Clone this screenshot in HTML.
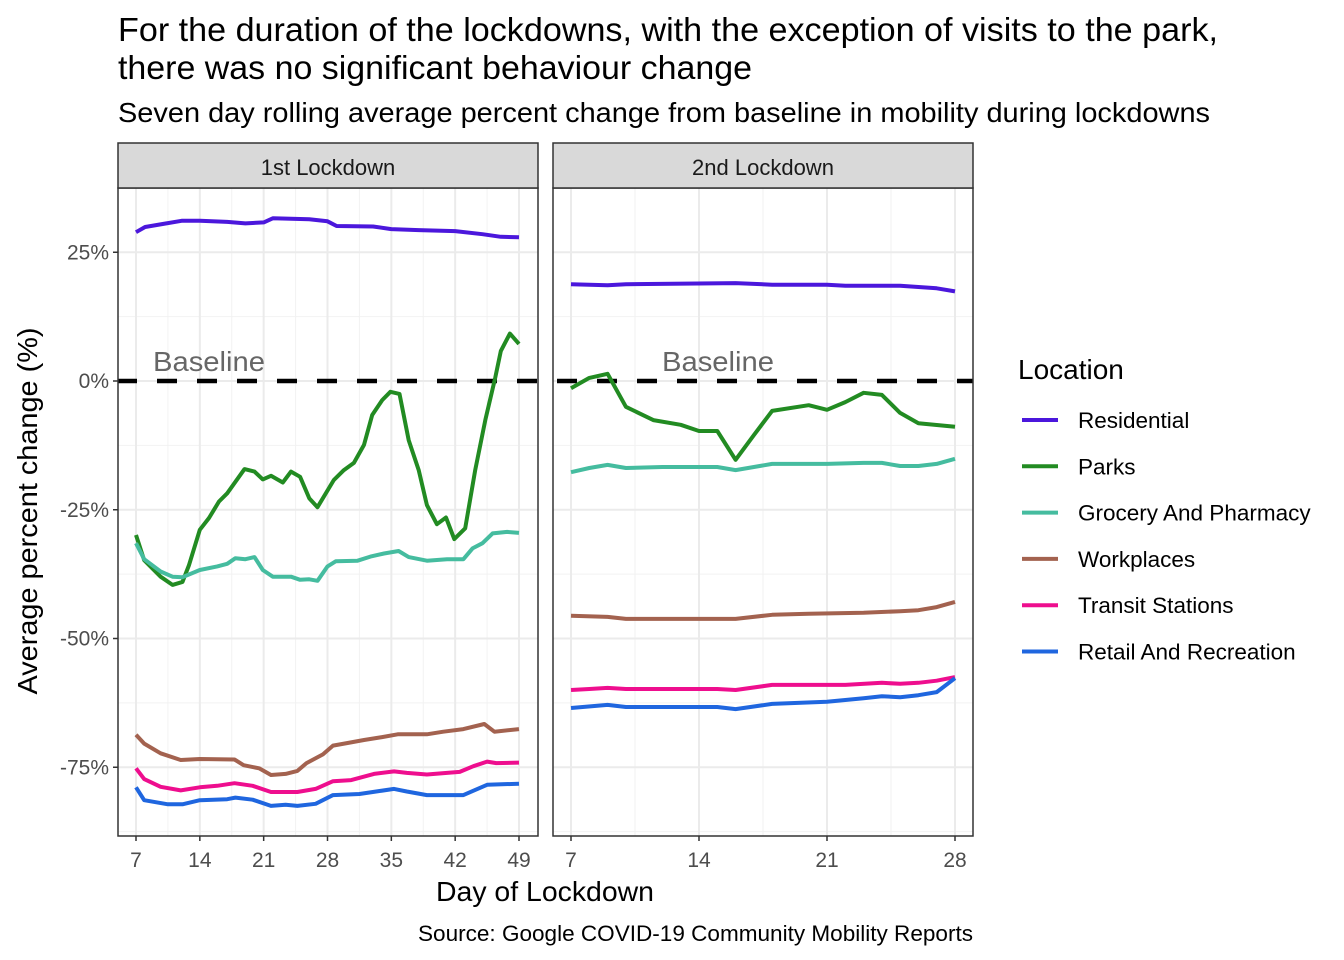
<!DOCTYPE html>
<html><head><meta charset="utf-8"><style>
body{margin:0;background:#fff;}
svg{display:block;font-family:"Liberation Sans",Arial,sans-serif;}
</style></head><body>
<svg id="chart" width="1344" height="960" viewBox="0 0 1344 960" xmlns="http://www.w3.org/2000/svg">
<text x="118" y="41" font-size="33" fill="#000" textLength="1100" lengthAdjust="spacingAndGlyphs">For the duration of the lockdowns, with the exception of visits to the park,</text>
<text x="118" y="79" font-size="33" fill="#000" textLength="634" lengthAdjust="spacingAndGlyphs">there was no significant behaviour change</text>
<text x="118" y="122" font-size="27.5" fill="#000" textLength="1092" lengthAdjust="spacingAndGlyphs">Seven day rolling average percent change from baseline in mobility during lockdowns</text>
<text transform="translate(37,511) rotate(-90)" text-anchor="middle" font-size="28" fill="#000" textLength="367" lengthAdjust="spacingAndGlyphs">Average percent change (%)</text>
<text x="545" y="901" text-anchor="middle" font-size="28" fill="#000" textLength="218" lengthAdjust="spacingAndGlyphs">Day of Lockdown</text>
<text x="973" y="941" text-anchor="end" font-size="22" fill="#000" textLength="555" lengthAdjust="spacingAndGlyphs">Source: Google COVID-19 Community Mobility Reports</text>
<g id="plots"></g>
<g id="legend"></g>
</svg>
<script>
const seriesNames = ["Residential","Parks","Grocery And Pharmacy","Workplaces","Transit Stations","Retail And Recreation"];
const seriesColors = ["#4b17dc","#228b22","#45bc9f","#a3624f","#ee0e8e","#1f66df"];
const yTickValues = [25,0,-25,-50,-75];
const yTickLabels = ["25%","0%","-25%","-50%","-75%"];
const x1Ticks = [7,14,21,28,35,42,49];
const x2Ticks = [7,14,21,28];
const panelLabels = ["1st Lockdown","2nd Lockdown"];

const p1Residential = [[7,28.9],[8,29.9],[10,30.5],[12,31.1],[14,31.1],[17,30.9],[19,30.6],[21,30.8],[22,31.6],[26,31.4],[28,31],[29,30.1],[33,30],[35,29.5],[38,29.3],[42,29.1],[45,28.5],[47,28],[49,27.9]];
const p1Parks = [[7,-29.9],[7.9,-34.8],[9.7,-38],[11,-39.6],[12.1,-39],[12.8,-35.8],[14,-28.9],[15,-26.6],[16.1,-23.4],[17,-21.8],[18.9,-17.1],[20,-17.6],[20.9,-19.1],[21.8,-18.4],[23.1,-19.7],[24,-17.6],[25,-18.6],[26,-22.8],[26.9,-24.5],[28.7,-19.2],[29.8,-17.3],[30.9,-15.9],[32,-12.4],[32.9,-6.6],[34,-3.7],[34.9,-2.1],[35.9,-2.5],[36.9,-11.5],[38,-17.3],[38.9,-24.1],[40,-27.8],[41,-26.5],[41.9,-30.7],[43.1,-28.6],[44.2,-17.3],[45.3,-7.6],[46.4,0.7],[47,5.8],[48,9.2],[49,7.2]];
const p1Grocery = [[7,-31.5],[7.9,-34.6],[9.7,-37],[11,-38],[12.1,-38.1],[14,-36.7],[15.9,-36],[17,-35.5],[17.9,-34.4],[19,-34.6],[20,-34.2],[20.9,-36.7],[22,-38],[24,-38],[25,-38.6],[26,-38.5],[26.9,-38.8],[28,-36],[28.9,-35],[31.3,-34.9],[32.7,-34.1],[34.2,-33.5],[35.8,-33],[36.9,-34.2],[38.9,-34.9],[41.1,-34.6],[42.9,-34.6],[43.9,-32.5],[45,-31.5],[46.1,-29.6],[47.7,-29.3],[49,-29.5]];
const p1Workplaces = [[7,-68.7],[7.9,-70.4],[9.7,-72.3],[11.9,-73.6],[14,-73.4],[17.8,-73.5],[18.8,-74.6],[20.5,-75.2],[21.8,-76.5],[23.4,-76.3],[24.7,-75.7],[25.7,-74.2],[27.5,-72.5],[28.6,-70.8],[30.2,-70.3],[32,-69.7],[33.8,-69.2],[35.7,-68.6],[38.9,-68.6],[40.7,-68.1],[42.9,-67.6],[45.2,-66.6],[46.3,-68.1],[49,-67.6]];
const p1Transit = [[7,-75.2],[7.9,-77.3],[9.7,-78.8],[11.9,-79.5],[14,-78.9],[15.9,-78.6],[17.8,-78.1],[19.8,-78.6],[21.8,-79.8],[24.7,-79.8],[26.7,-79.2],[28.6,-77.7],[30.6,-77.5],[33.1,-76.3],[35.3,-75.8],[36.7,-76.1],[38.9,-76.4],[41.1,-76.1],[42.5,-75.9],[44,-74.8],[45.5,-73.9],[46.5,-74.2],[49,-74.1]];
const p1Retail = [[7,-78.9],[7.9,-81.4],[10.5,-82.2],[12.1,-82.2],[14,-81.4],[17,-81.2],[17.9,-80.9],[19.8,-81.3],[21.8,-82.5],[23.4,-82.3],[24.7,-82.5],[26.7,-82.1],[28.6,-80.4],[31.5,-80.2],[33.8,-79.6],[35.3,-79.2],[36.7,-79.7],[38.9,-80.4],[42.9,-80.4],[44.2,-79.4],[45.5,-78.4],[49,-78.2]];

const p2Residential = [[7,18.8],[9,18.6],[10,18.8],[16,19],[18,18.7],[21,18.7],[22,18.5],[25,18.5],[27,18],[28,17.4]];
const p2Parks = [[7,-1.4],[8,0.6],[9,1.4],[10,-5],[11.5,-7.6],[13,-8.5],[14,-9.7],[15,-9.7],[16,-15.3],[17,-10.5],[18,-5.8],[20,-4.7],[21,-5.6],[22,-4.1],[23,-2.3],[24,-2.7],[25,-6.2],[26,-8.2],[28,-8.9]];
const p2Grocery = [[7,-17.7],[8,-16.9],[9,-16.3],[10,-16.9],[12,-16.7],[15,-16.7],[16,-17.3],[17,-16.7],[18,-16.1],[21,-16.1],[23,-15.9],[24,-15.9],[25,-16.5],[26,-16.5],[27,-16.1],[28,-15.1]];
const p2Workplaces = [[7,-45.6],[9,-45.8],[10,-46.2],[16,-46.2],[18,-45.4],[20,-45.2],[23,-45],[25,-44.7],[26,-44.5],[27,-43.9],[28,-42.9]];
const p2Transit = [[7,-60],[8,-59.8],[9,-59.6],[10,-59.8],[15,-59.8],[16,-60],[18,-59],[22,-59],[24,-58.6],[25,-58.8],[26,-58.6],[27,-58.2],[28,-57.5]];
const p2Retail = [[7,-63.5],[9,-62.9],[10,-63.3],[15,-63.3],[16,-63.7],[18,-62.7],[21,-62.3],[23,-61.6],[24,-61.2],[25,-61.4],[26,-61],[27,-60.4],[28,-57.7]];

const panelSeries = [
  [p1Residential,p1Parks,p1Grocery,p1Workplaces,p1Transit,p1Retail],
  [p2Residential,p2Parks,p2Grocery,p2Workplaces,p2Transit,p2Retail]
];

const NS="http://www.w3.org/2000/svg";
function mk(tag,attrs,parent){const e=document.createElementNS(NS,tag);for(const k in attrs)e.setAttribute(k,attrs[k]);parent.appendChild(e);return e;}
const panels=[
  {left:118,right:538,x0:7,x1:49,px0:136,px1:519,ticks:x1Ticks},
  {left:553,right:973,x0:7,x1:28,px0:571,px1:955,ticks:x2Ticks}
];
const plotTop=188,plotBottom=836;
function yScale(v){return 381-v*5.15;}
const plots=document.getElementById('plots');
panels.forEach((p,pi)=>{
  const xs=d=>p.px0+(d-p.x0)*(p.px1-p.px0)/(p.x1-p.x0);
  const g=mk('g',{},plots);
  
  
  mk('rect',{x:p.left,y:plotTop,width:p.right-p.left,height:plotBottom-plotTop,fill:'#fff'},g);
  for(let v=37.5;v>-90;v-=25){const y=yScale(v);if(y>plotTop&&y<plotBottom)mk('line',{x1:p.left,x2:p.right,y1:y,y2:y,stroke:'#f2f2f2','stroke-width':1},g);}
  for(let i=0;i<p.ticks.length-1;i++){const x=xs((p.ticks[i]+p.ticks[i+1])/2);mk('line',{x1:x,x2:x,y1:plotTop,y2:plotBottom,stroke:'#f2f2f2','stroke-width':1},g);}
  yTickValues.forEach(v=>{const y=yScale(v);mk('line',{x1:p.left,x2:p.right,y1:y,y2:y,stroke:'#ebebeb','stroke-width':2},g);});
  p.ticks.forEach(d=>{const x=xs(d);mk('line',{x1:x,x2:x,y1:plotTop,y2:plotBottom,stroke:'#ebebeb','stroke-width':2},g);});
  const bl=mk('line',{x1:p.left,x2:p.right,y1:yScale(0),y2:yScale(0),stroke:'#000','stroke-width':4.5,'stroke-dasharray':'20 20','stroke-dashoffset':(p.left-157+40)},g);
  
  
  const bt=mk('text',{x:pi==0?153:662,y:371,'font-size':28,fill:'#666',textLength:112,lengthAdjust:'spacingAndGlyphs'},g);
  bt.textContent='Baseline';
  
  
  panelSeries[pi].forEach((arr,si)=>{
    const d=arr.map((pt,i)=>(i?'L':'M')+xs(pt[0]).toFixed(1)+','+yScale(pt[1]).toFixed(1)).join(' ');
    const path=mk('path',{d:d,fill:'none',stroke:seriesColors[si],'stroke-width':4,'stroke-linejoin':'round'},g);
    
    
  });
  mk('rect',{x:p.left,y:plotTop,width:p.right-p.left,height:plotBottom-plotTop,fill:'none',stroke:'#333','stroke-width':1.5},g);
  const strip=mk('rect',{x:p.left,y:143,width:p.right-p.left,height:45,fill:'#d9d9d9',stroke:'#333','stroke-width':1.5},g);
  
  
  const st=mk('text',{x:(p.left+p.right)/2,y:175,'text-anchor':'middle','font-size':22,fill:'#1a1a1a'},g);
  st.textContent=panelLabels[pi];
  
  
  p.ticks.forEach(d=>{const x=xs(d);mk('line',{x1:x,x2:x,y1:plotBottom,y2:plotBottom+5,stroke:'#333','stroke-width':1.5},g);
    const t=mk('text',{x:x,y:plotBottom+31,'text-anchor':'middle','font-size':21,fill:'#4d4d4d'},g);t.textContent=d;
    
    });
  if(pi==0){
    yTickValues.forEach((v,i)=>{const y=yScale(v);mk('line',{x1:p.left-5,x2:p.left,y1:y,y2:y,stroke:'#333','stroke-width':1.5},g);
      const t=mk('text',{x:p.left-9,y:y+7,'text-anchor':'end','font-size':21,fill:'#4d4d4d'},g);t.textContent=yTickLabels[i];
      
      });
  }
});
const lg=document.getElementById('legend');


const lt=mk('text',{x:1018,y:379,'font-size':28,fill:'#000'},lg);lt.textContent='Location';


seriesNames.forEach((n,i)=>{
  const y=420+i*46.3;
  const e=mk('g',{},lg);
  
  
  mk('line',{x1:1022,x2:1058,y1:y,y2:y,stroke:seriesColors[i],'stroke-width':4},e);
  const t=mk('text',{x:1078,y:y+8,'font-size':22.5,fill:'#000'},e);t.textContent=n;
});
</script>
</body></html>
